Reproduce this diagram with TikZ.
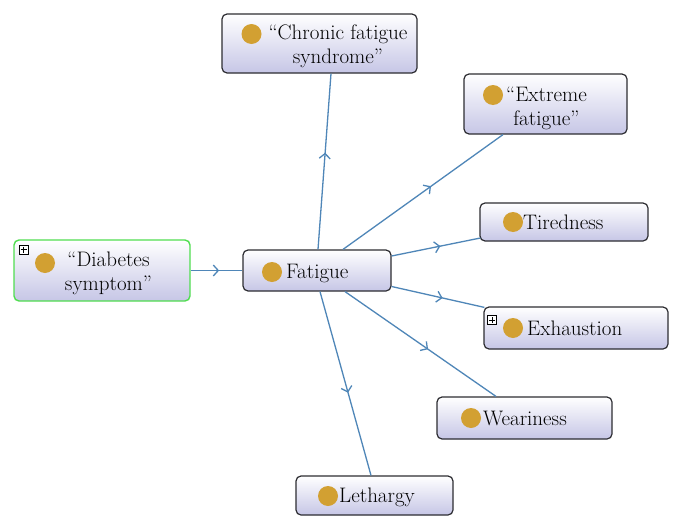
\documentclass[tikz,border=0pt]{standalone}
\usepackage{fontspec}
\usetikzlibrary{arrows.meta,decorations.markings,calc}
\definecolor{edgec}{RGB}{79,134,184}
\definecolor{dotc}{RGB}{210,160,50}
\definecolor{boxbot}{RGB}{198,198,230}
\definecolor{boxline}{RGB}{45,45,50}
\definecolor{greenline}{RGB}{80,222,80}
\tikzset{
 box/.style={draw=boxline, line width=1.2pt, rounded corners=5pt, top color=white, bottom color=boxbot, inner sep=0pt},
 gbox/.style={box, draw=greenline, line width=1.4pt},
 lbl/.style={font=\fontsize{21}{24}\selectfont, inner sep=0pt, align=center, text=black},
 slbl/.style={lbl, anchor=west, text height=14pt, text depth=4pt},
 dot/.style={circle, fill=dotc, minimum size=20pt, inner sep=0pt},
 link/.style={draw=edgec, line width=1.3pt, postaction={decorate},
   decoration={markings, mark=at position 0.55 with {\arrow{Straight Barb[length=5pt,width=11pt,line width=1.3pt]}}}},
 plusbox/.style={draw=black, fill=white, line width=0.6pt, minimum size=9pt, inner sep=0pt,
   path picture={\draw[line width=0.7pt] ([yshift=-1.5pt]path picture bounding box.north) -- ([yshift=1.5pt]path picture bounding box.south);
                 \draw[line width=0.7pt] ([xshift=1.5pt]path picture bounding box.west) -- ([xshift=-1.5pt]path picture bounding box.east);}}
}
\begin{document}
\begin{tikzpicture}[x=1pt,y=-1pt]
\useasboundingbox[fill=white] (0,0) rectangle (683,530);
% boxes
\node[box, minimum width=195pt, minimum height=59pt] (chr) at (319.5,43.5) {};
\node[box, minimum width=163pt, minimum height=60pt] (ext) at (545.5,104) {};
\node[box, minimum width=168pt, minimum height=38pt] (tir) at (564,222) {};
\node[gbox, minimum width=176pt, minimum height=61pt] (dia) at (102,270.5) {};
\node[box, minimum width=148pt, minimum height=41pt] (fat) at (317,270.5) {};
\node[box, minimum width=184pt, minimum height=42pt] (exh) at (576,328) {};
\node[box, minimum width=175pt, minimum height=42pt] (wea) at (524.5,418) {};
\node[box, minimum width=157pt, minimum height=39pt] (let) at (374.5,495.5) {};
% connectors
\draw[link] ($(fat.north)+(1,0)$) -- ($(chr.south)+(11.5,0)$);
\draw[link] ($(fat.north)+(26,0)$) -- ($(ext.south)+(-42.5,0)$);
\draw[link] ($(fat.east)+(0,-14.5)$) -- ($(tir.west)+(1,16)$);
\draw[link] (dia.east) -- (fat.west);
\draw[link] ($(fat.east)+(0,16)$) -- ($(exh.north west)+(1,1)$);
\draw[link] ($(fat.south)+(28,0)$) -- ($(wea.north)+(-28.5,0)$);
\draw[link] ($(fat.south)+(3,0)$) -- ($(let.north)+(-3.5,0)$);
% dots
\node[dot] (chrd) at (251.5,34) {};
\node[dot] (extd) at (493,95) {};
\node[dot] (tird) at (513,222) {};
\node[dot] (diad) at (45,263) {};
\node[dot] (fatd) at (272,272) {};
\node[dot] (exhd) at (513,328) {};
\node[dot] (wead) at (471,418) {};
\node[dot] (letd) at (328,496) {};
% plus icons
\node[plusbox] (diap) at (23.5,249.5) {};
\node[plusbox] (exhp) at (492,320) {};
% labels
\node[lbl] (chrt) at (338,46) {``Chronic fatigue\\syndrome''};
\node[lbl] (extt) at (546.5,108) {``Extreme\\fatigue''};
\node[lbl] (diat) at (108.5,273) {``Diabetes\\symptom''};
\node[slbl] (tirt) at (523,224) {Tiredness};
\node[slbl] (fatt) at (286,273) {Fatigue};
\node[slbl] (exht) at (527,330) {Exhaustion};
\node[slbl] (weat) at (483,420) {Weariness};
\node[slbl] (lett) at (339,497) {Lethargy};
\end{tikzpicture}
\end{document}
